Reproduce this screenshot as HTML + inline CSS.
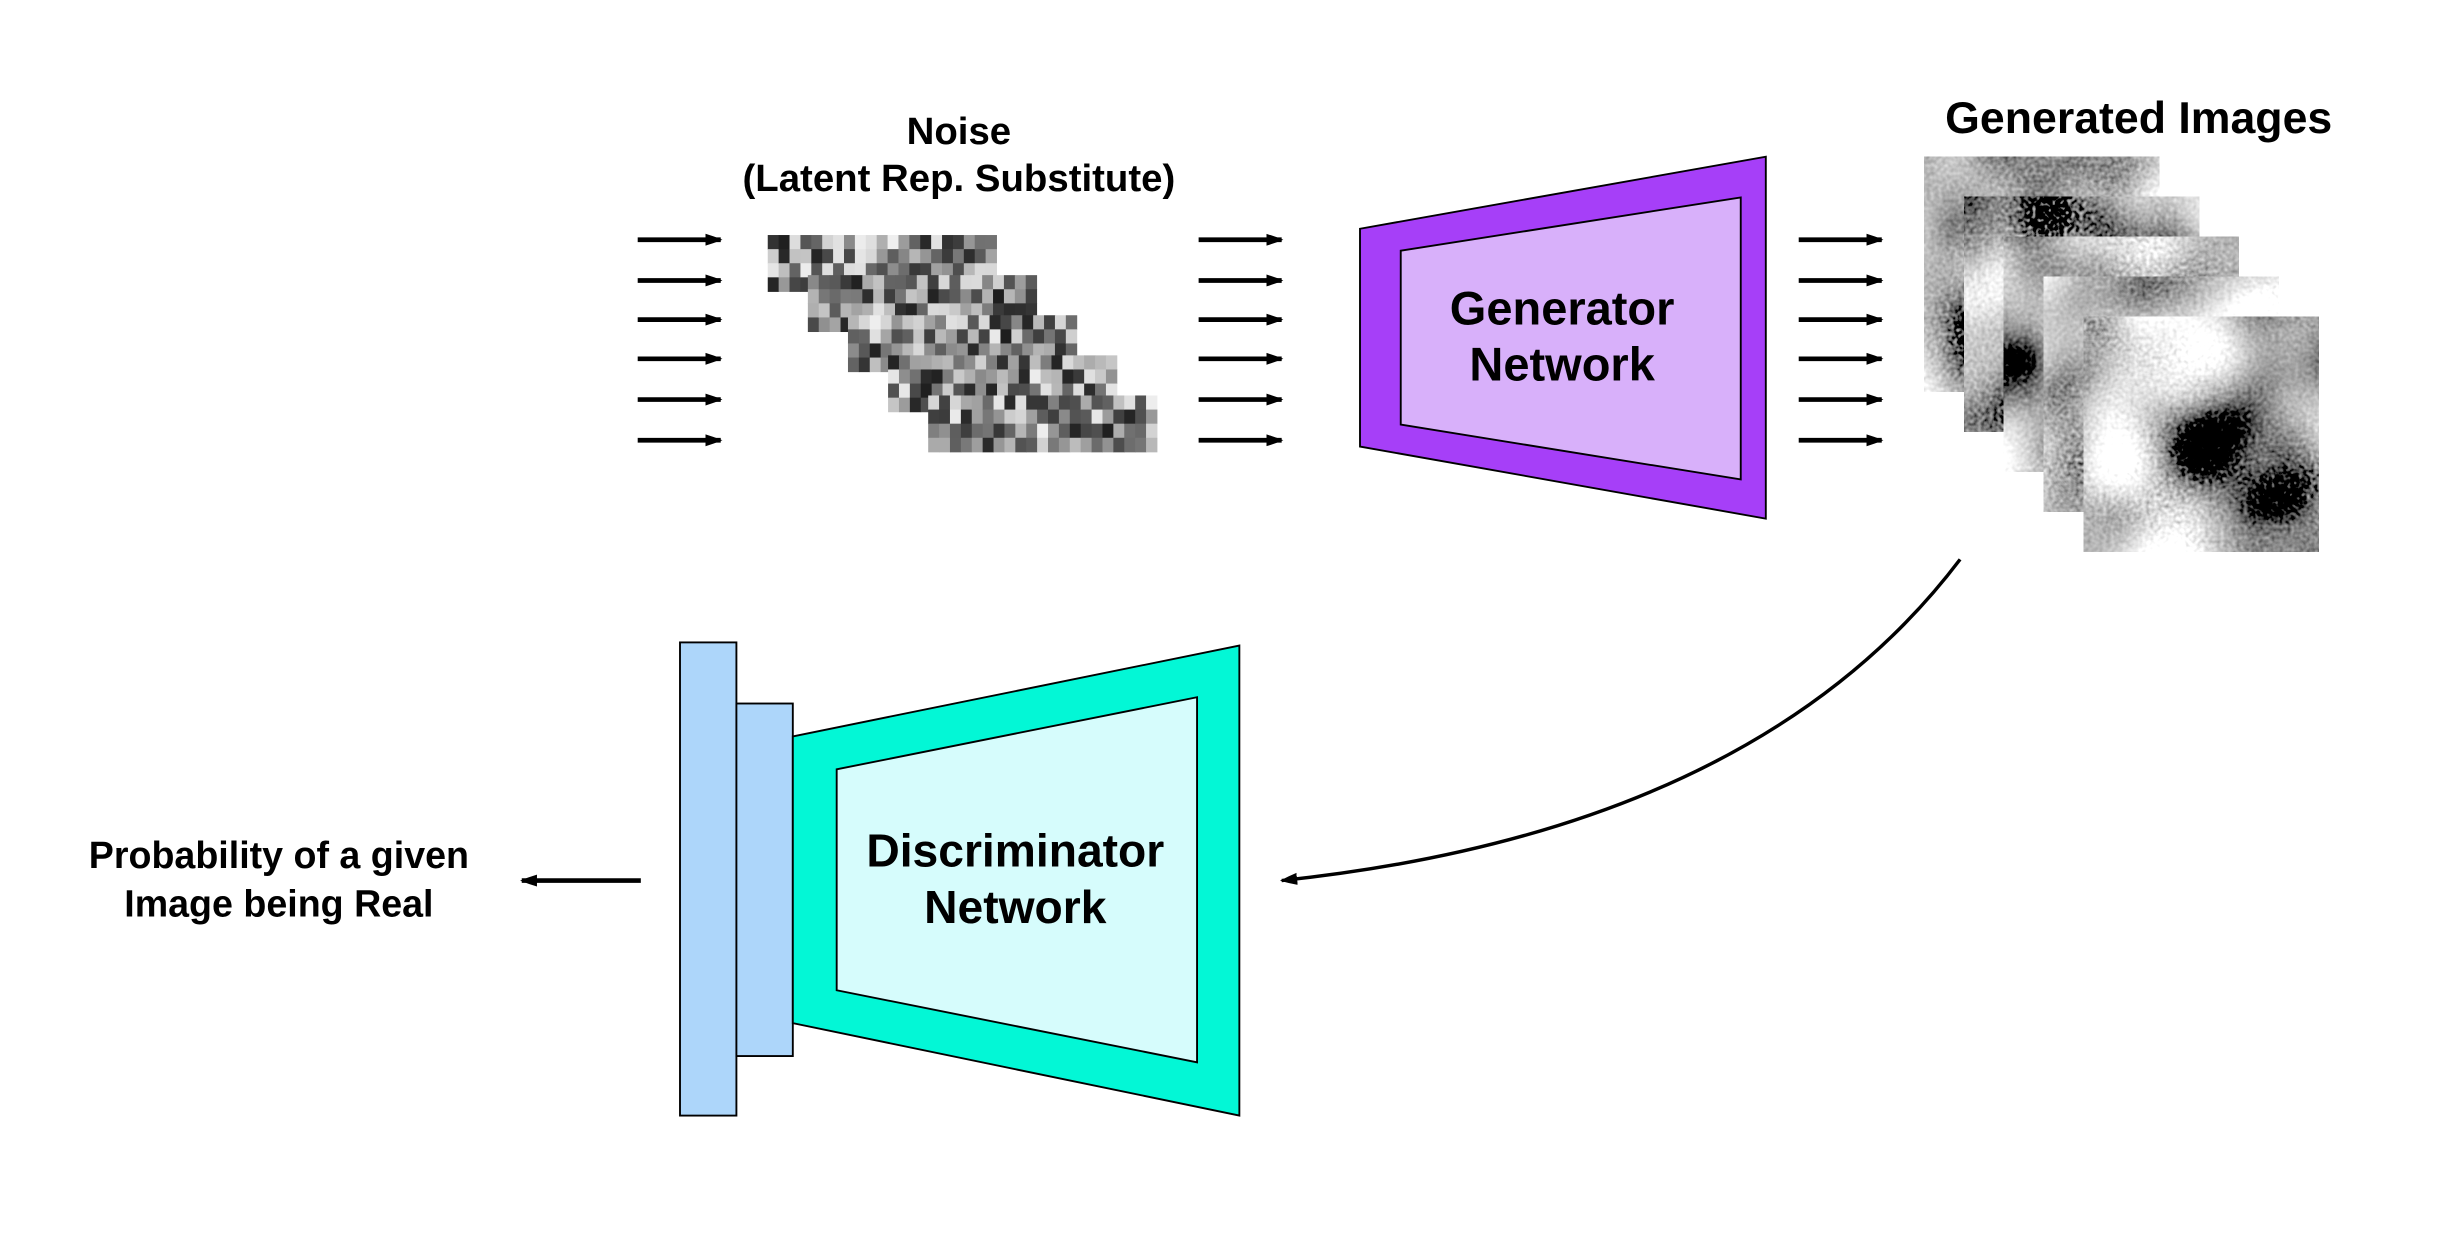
<!DOCTYPE html>
<html><head><meta charset="utf-8"><style>
html,body{margin:0;padding:0;background:#fff;}
svg{display:block;}
text{font-family:"Liberation Sans",Arial,sans-serif;font-weight:bold;fill:#000;}
</style></head><body>
<svg id="s" width="2456" height="1240" viewBox="0 0 1567.5 791.4" preserveAspectRatio="none" xmlns="http://www.w3.org/2000/svg">
<defs>
<marker id="ah" viewBox="0 0 10 10" refX="9" refY="5" markerWidth="3.6" markerHeight="3.6" orient="auto-start-reverse" markerUnits="strokeWidth">
<path d="M0,1.5 Q5,3 10,5 Q5,7 0,8.5 Z" fill="#000"/></marker>
<marker id="ah2" viewBox="0 0 10 10" refX="9" refY="5" markerWidth="5" markerHeight="5" orient="auto" markerUnits="strokeWidth">
<path d="M0,1.5 Q5,3 10,5 Q5,7 0,8.5 Z" fill="#000"/></marker>
</defs>

<text x="612" y="92" font-size="24.5" text-anchor="middle">Noise</text>
<text x="612" y="122" font-size="24.5" text-anchor="middle">(Latent Rep. Substitute)</text>

<g id="arrows" stroke="#000" stroke-width="3" fill="none"></g>
<g id="noise"></g>

<polygon points="868,146 1127,100 1127,331 868,285" fill="#A63FF8" stroke="#000" stroke-width="1.2"/>
<polygon points="894,160 1111,126 1111,306 894,271" fill="#D8B0FA" stroke="#000" stroke-width="1.2"/>
<text x="997" y="207" font-size="30" text-anchor="middle">Generator</text>
<text x="997" y="243" font-size="30" text-anchor="middle">Network</text>

<text x="1365" y="85" font-size="28.5" text-anchor="middle">Generated Images</text>
<g id="imgs"></g>

<path d="M1251,357 Q1120,530 818,562" stroke="#000" stroke-width="2.2" fill="none" marker-end="url(#ah2)"/>

<rect x="434" y="410" width="36" height="302" fill="#ADD6FA" stroke="#000" stroke-width="1.2"/>
<rect x="470" y="449" width="36" height="225" fill="#ADD6FA" stroke="#000" stroke-width="1.2"/>
<polygon points="506,470 791,412 791,712 506,653" fill="#03F7D6" stroke="#000" stroke-width="1.2"/>
<polygon points="534,491 764,445 764,678 534,632" fill="#D6FCFC" stroke="#000" stroke-width="1.2"/>
<text x="648" y="553" font-size="29.5" text-anchor="middle">Discriminator</text>
<text x="648" y="589" font-size="29.5" text-anchor="middle">Network</text>

<line x1="409" y1="562" x2="333" y2="562" stroke="#000" stroke-width="3" marker-end="url(#ah)"/>
<text x="178" y="554" font-size="24" text-anchor="middle">Probability of a given</text>
<text x="178" y="585" font-size="24" text-anchor="middle">Image being Real</text>
</svg>
<script>
var NS="http://www.w3.org/2000/svg";
function el(t,a,p){var e=document.createElementNS(NS,t);for(var k in a)e.setAttribute(k,a[k]);p.appendChild(e);return e;}
var ar=document.getElementById("arrows");
var rows=[153,179,204,229,255,281];
[[407,462],[765,820],[1148,1203]].forEach(function(x){rows.forEach(function(y){
 el("line",{x1:x[0],y1:y,x2:x[1]-2,y2:y,"marker-end":"url(#ah)"},ar);});});
var seed=12345;function rnd(){seed=(seed*16807)%2147483647;return seed/2147483647;}
var ng=document.getElementById("noise");
for(var b=0;b<5;b++){
 var x0=490+25.6*b,y0=150+25.6*b,cw=146/21,ch=36/4;
 for(var i=0;i<21;i++)for(var j=0;j<4;j++){
  var v=Math.floor(30+rnd()*210);
  el("rect",{x:(x0+i*cw).toFixed(2),y:(y0+j*ch).toFixed(2),width:(cw+0.3).toFixed(2),height:(ch+0.3).toFixed(2),fill:"rgb("+v+","+v+","+v+")"},ng);
 }}
var ig=document.getElementById("imgs");
for(var k=0;k<5;k++){
 var x=1228+25.5*k,y=100+25.5*k;
 var f=document.createElementNS(NS,"filter");
 f.setAttribute("id","t"+k);f.setAttribute("x","0");f.setAttribute("y","0");f.setAttribute("width","100%");f.setAttribute("height","100%");
 f.innerHTML='<feTurbulence type="fractalNoise" baseFrequency="0.012" numOctaves="2" seed="'+(k*5+2)+'" result="n"/><feTurbulence type="fractalNoise" baseFrequency="0.4" numOctaves="1" seed="'+(k+9)+'" result="g"/><feComposite in="n" in2="g" operator="arithmetic" k1="0" k2="1" k3="0.22" k4="-0.11" result="c"/><feColorMatrix in="c" type="matrix" values="2.6 0 0 0 -0.55  2.6 0 0 0 -0.55  2.6 0 0 0 -0.55  0 0 0 0 1"/>';
 document.querySelector("defs").appendChild(f);
 el("rect",{x:x,y:y,width:150,height:150,fill:"#aaa"},ig);
 el("rect",{x:x,y:y,width:150,height:150,filter:"url(#t"+k+")"},ig);
}
</script>
</body></html>
